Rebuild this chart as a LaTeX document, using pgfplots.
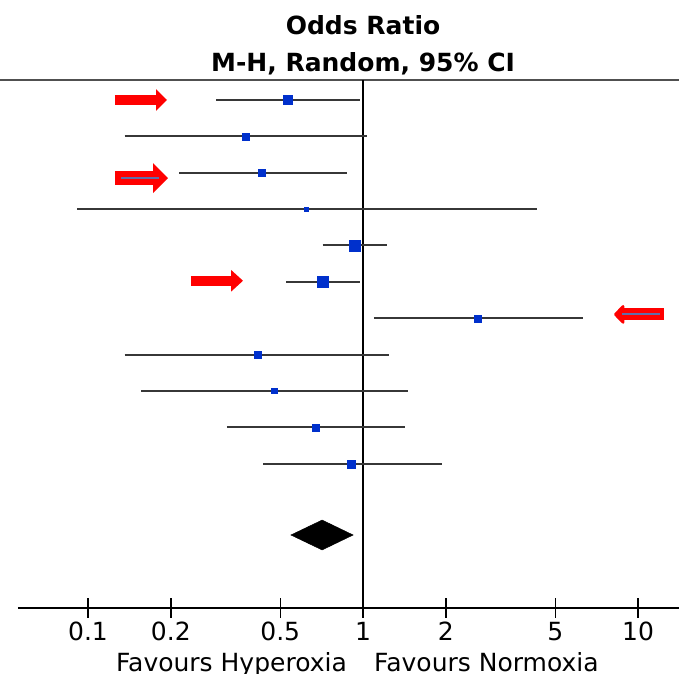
\documentclass[border=0pt]{standalone}
\usepackage{fontspec}
\setmainfont{DejaVu Sans}
\usepackage{pgfplots}
\pgfplotsset{compat=1.18}
\usepackage{pgfplotstable}
\usetikzlibrary{arrows.meta}
\definecolor{sqblue}{RGB}{0,48,204}
\definecolor{cigray}{RGB}{55,55,55}
\definecolor{topgray}{RGB}{80,80,80}
\definecolor{innerblue}{RGB}{95,110,170}

% study rows: y = -row, CI low, odds ratio, CI high, half marker size (bp)
\pgfplotstableread{
row lo or hi ms
-1 0.292 0.532 0.975 4.5
-2 0.136 0.375 1.037 3.5
-3 0.215 0.428 0.872 3.7
-4 0.0914 0.621 4.29 2.3
-5 0.713 0.935 1.226 5.5
-6 0.525 0.713 0.975 5.5
-7 1.096 2.605 6.29 3.5
-8 0.136 0.413 1.247 3.5
-9 0.156 0.475 1.454 2.6
-10 0.320 0.675 1.425 3.5
-11 0.434 0.907 1.937 4.0
}\studies

% confidence interval segments
\pgfplotstableread{
x y
0.292 -1
0.975 -1
nan nan
0.136 -2
1.037 -2
nan nan
0.215 -3
0.872 -3
nan nan
0.0914 -4
4.29 -4
nan nan
0.713 -5
1.226 -5
nan nan
0.525 -6
0.975 -6
nan nan
1.096 -7
6.29 -7
nan nan
0.136 -8
1.247 -8
nan nan
0.156 -9
1.454 -9
nan nan
0.320 -10
1.425 -10
nan nan
0.434 -11
1.937 -11
}\cis

\begin{document}
\begin{tikzpicture}
\path[use as bounding box] (-18bp,-66bp) rectangle (661bp,608bp);
\begin{axis}[
  at={(0,0)}, anchor=south west,
  scale only axis, width=661bp, height=528bp,
  xmode=log, log basis x=10,
  xmin=0.05564, xmax=14.09,
  ymin=-14.967, ymax=-0.45,
  axis x line=bottom, axis y line=none,
  x axis line style={-, black, line width=1.6bp},
  xtick={0.1,0.2,0.5,1,2,5,10},
  xticklabels={0.1,0.2,0.5,1,2,5,10},
  minor xtick={},
  xtick align=center,
  major tick length=19bp,
  x tick style={black, line width=1.4bp},
  xticklabel style={font=\fontsize{25bp}{30bp}\selectfont, anchor=base, yshift=-23bp, inner sep=0pt},
  /pgf/number format/assume math mode=true,
  clip=false,
  unbounded coords=jump,
]
% top rule and line of no effect
\addplot[topgray, line width=1.8bp] coordinates {(0.04786,-0.45) (14.09,-0.45)};
\addplot[black, line width=1.5bp] coordinates {(1,-0.45) (1,-14.967)};
% CIs
\addplot[cigray, line width=2bp] table[x=x, y=y] {\cis};
% point estimates
\addplot[only marks, mark=square*, scatter,
  scatter/use mapped color={fill=sqblue, draw=sqblue},
  mark options={line width=0.3bp},
  visualization depends on={\thisrow{ms} \as \ms},
  scatter/@pre marker code/.append style={/tikz/mark size=\ms bp}]
  table[x=or, y=row] {\studies};
% pooled estimate
\addplot[fill=black, draw=black, line width=0.5bp] coordinates {(0.547,-12.96) (0.71,-12.55) (0.92,-12.96) (0.71,-13.37)} -- cycle;
% annotation arrows
\addplot[red, line width=10bp, -{Triangle[length=11bp,width=21bp]}] coordinates {(0.1253,-1) (0.1938,-1)};
\addplot[red, line width=14bp, -{Triangle[length=15bp,width=29bp]}] coordinates {(0.1253,-3.149) (0.1954,-3.149)};
\addplot[innerblue, line width=2bp] coordinates {(0.1318,-3.149) (0.1812,-3.149)};
\addplot[red, line width=10bp, -{Triangle[length=12bp,width=21bp]}] coordinates {(0.2368,-5.97) (0.3662,-5.97)};
\addplot[red, line width=12bp, line join=round, -{Triangle[length=11bp,width=22bp,round]}] coordinates {(12.43,-6.895) (8.178,-6.895)};
\addplot[innerblue, line width=2bp] coordinates {(8.745,-6.895) (12.02,-6.895)};
% header and direction labels
\node[anchor=base, yshift=45bp, font=\bfseries\fontsize{25bp}{30bp}\selectfont] at (axis cs:1,-0.45) {Odds Ratio};
\node[anchor=base, yshift=8bp, font=\bfseries\fontsize{25bp}{30bp}\selectfont] at (axis cs:1,-0.45) {M-H, Random, 95\% CI};
\node[anchor=base east, xshift=-16bp, yshift=-63bp, inner sep=0pt, font=\fontsize{25bp}{30bp}\selectfont] at (axis cs:1,-14.967) {Favours Hyperoxia};
\node[anchor=base west, xshift=11bp, yshift=-63bp, inner sep=0pt, font=\fontsize{25bp}{30bp}\selectfont] at (axis cs:1,-14.967) {Favours Normoxia};
\end{axis}
\end{tikzpicture}
\end{document}
